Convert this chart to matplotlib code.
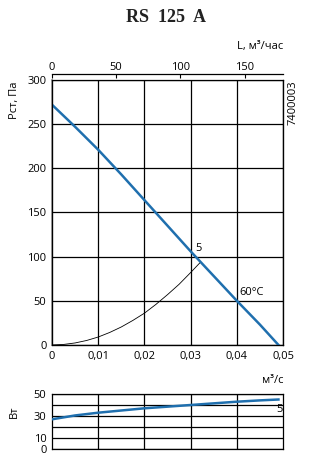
import matplotlib

matplotlib.use("Agg")
import matplotlib.pyplot as plt

# fan curve RS 125 A
flow = [0.0, 0.005, 0.01, 0.015, 0.02, 0.025, 0.03, 0.035, 0.04, 0.045, 0.049]
pressure = [272, 247, 221, 193, 164, 135, 106, 78, 50, 23, 0]
# system curve
sys_flow = [0.0, 0.0025, 0.005, 0.0075, 0.01, 0.0125, 0.015, 0.0175, 0.02,
            0.0225, 0.025, 0.0275, 0.03, 0.032]
sys_pressure = [0, 0.6, 2.3, 5.1, 9, 14.2, 20.4, 27.8, 36, 46, 57, 68.7, 82, 93]
# power consumption
power = [27, 30.5, 33, 35, 37, 38.5, 40, 41.5, 43, 44.2, 45]

x_ticks = [0, 0.01, 0.02, 0.03, 0.04, 0.05]
x_labels = ["0", "0,01", "0,02", "0,03", "0,04", "0,05"]
top_ticks = [0, 50, 100, 150]
p_ticks = [0, 50, 100, 150, 200, 250, 300]
w_ticks = [0, 10, 30, 50]

blue = "#1f6fae"
fs = 8
plt.rcParams["font.family"] = ["Open Sans", "DejaVu Sans"]

fig = plt.figure(figsize=(3.17, 4.66), dpi=100)
fig.text(0.524, 0.962, "RS  125  A", ha="center", va="center", fontsize=13,
         fontweight="bold", family="Liberation Serif", color="#222222")

ax = fig.add_axes([0.164, 0.2597, 0.729, 0.5687])
ax.plot(flow, pressure, color=blue, lw=1.8, zorder=3)
ax.plot(sys_flow, sys_pressure, color="black", lw=0.6, zorder=2)
ax.set_xlim(0, 0.05)
ax.set_ylim(0, 300)
ax.set_xticks(x_ticks, x_labels)
ax.set_yticks(p_ticks)
ax.tick_params(length=0, labelsize=fs, pad=4)
ax.grid(color="black", lw=0.9)
for s in ["top", "right", "bottom"]:
    ax.spines[s].set_linewidth(0.9)
ax.spines["left"].set_color("#888888")
ax.spines["left"].set_linewidth(1.2)
fig.text(0.045, 0.785, "Pст, Па", rotation=90, fontsize=fs, ha="center", va="center")
ax.text(0.031, 103, "5", fontsize=fs, ha="left", va="bottom")
ax.text(0.0405, 53, "60°C", fontsize=fs, ha="left", va="bottom")
ax.text(1.02, 1.0, "7400003", transform=ax.transAxes, rotation=90,
        fontsize=fs, ha="left", va="top")

top = ax.twiny()
top.set_xlim(0, 0.05 * 3600)
top.set_xticks(top_ticks)
top.spines["top"].set_position(("outward", 4))
top.spines["top"].set_linewidth(0.9)
top.tick_params(direction="in", length=3, labelsize=fs, pad=1)
top.text(1.0, 1.125, "L, м³/час", transform=ax.transAxes, fontsize=fs,
         ha="right", va="center")

bx = fig.add_axes([0.164, 0.0365, 0.729, 0.118])
bx.plot(flow, power, color=blue, lw=1.8, zorder=3)
bx.set_xlim(0, 0.05)
bx.set_ylim(0, 50)
bx.set_xticks(x_ticks[1:-1], [])
bx.set_yticks(range(0, 51, 10))
bx.set_yticklabels(["" if v not in w_ticks else str(v) for v in range(0, 51, 10)])
bx.tick_params(length=0, labelsize=fs, pad=4)
bx.grid(color="black", lw=0.9)
for s in bx.spines.values():
    s.set_linewidth(0.9)
fig.text(0.045, 0.116, "Вт", rotation=90, fontsize=fs, ha="center", va="center")
bx.text(0.0485, 41, "5", fontsize=fs, ha="left", va="top")
bx.text(1.0, 1.15, "м³/с", transform=bx.transAxes, fontsize=fs,
        ha="right", va="bottom")

fig.savefig("out.png", dpi=100)
